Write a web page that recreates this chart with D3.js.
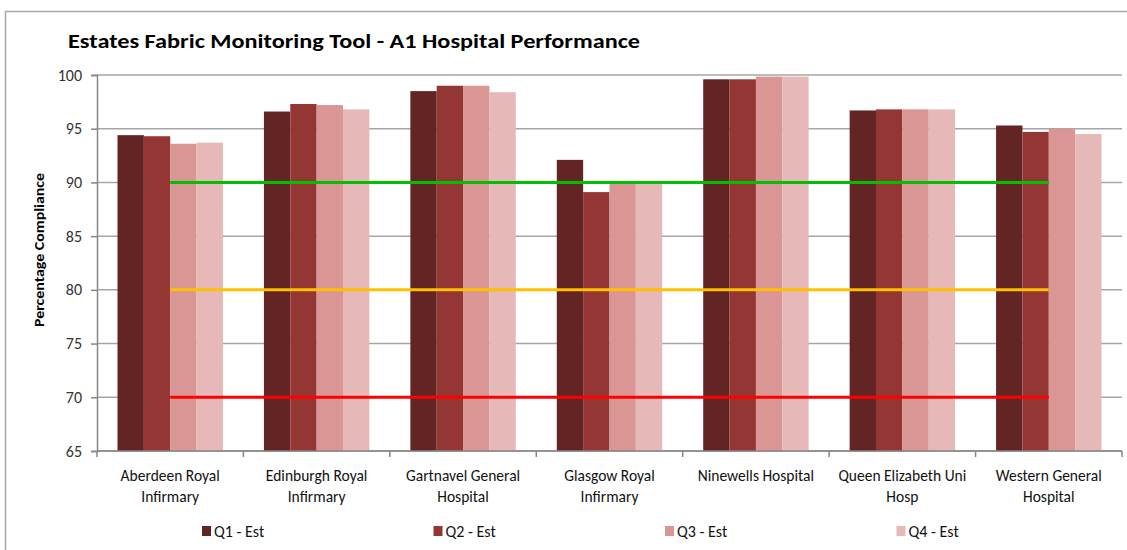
<!DOCTYPE html>
<html>
<head>
<meta charset="utf-8">
<script src="https://cdn.jsdelivr.net/npm/d3@7"></script>
<style>
  body { margin: 0; background: #fff; }
  text { font-family: Carlito, Calibri, Lato, sans-serif; }
</style>
</head>
<body>
<script>
var w = 1127,
    h = 550;

// hospitals, split into the two label lines
var hospitals = [
  ["Aberdeen Royal", "Infirmary"],
  ["Edinburgh Royal", "Infirmary"],
  ["Gartnavel General", "Hospital"],
  ["Glasgow Royal", "Infirmary"],
  ["Ninewells Hospital"],
  ["Queen Elizabeth Uni", "Hosp"],
  ["Western General", "Hospital"]
];

var q1 = [94.4, 96.6, 98.5, 92.1, 99.6, 96.7, 95.3];
var q2 = [94.3, 97.3, 99.0, 89.1, 99.6, 96.8, 94.7];
var q3 = [93.6, 97.2, 99.0, 89.9, 99.85, 96.8, 95.0];
var q4 = [93.7, 96.8, 98.4, 89.9, 99.85, 96.8, 94.5];

var seriesNames = ["Q1 - Est", "Q2 - Est", "Q3 - Est", "Q4 - Est"];
var seriesColors = ["#632523", "#943634", "#d99694", "#e6b9b8"];

var yTicks = [65, 70, 75, 80, 85, 90, 95, 100];

// target lines
var targets = [90, 80, 70];
var targetColors = ["#00c000", "#ffc000", "#ff0000"];

var series = [q1, q2, q3, q4];

var plotLeft = 97, plotRight = 1122, plotTop = 75, plotBottom = 451;

var x0 = d3.scaleBand()
          .domain(d3.range(hospitals.length))
          .range([plotLeft, plotRight])
          .paddingInner(0.28)
          .paddingOuter(0.14);

var x1 = d3.scaleBand()
          .domain(d3.range(series.length))
          .range([0, x0.bandwidth()]);

var y = d3.scaleLinear()
          .domain([65, 100])
          .range([plotBottom, plotTop]);

var svg = d3.select("body").append("svg")
          .attr("width", w)
          .attr("height", h);

// chart frame
svg.append("path")
  .attr("d", "M5.5," + (h + 2) + "V11.5H" + (w + 2))
  .attr("fill", "none")
  .attr("stroke", "#a6a6a6")
  .attr("stroke-width", 1.5);

svg.append("text")
  .text("Estates Fabric Monitoring Tool - A1 Hospital Performance")
  .attr("x", 68)
  .attr("y", 48)
  .attr("font-size", 21)
  .attr("font-weight", "bold")
  .attr("fill", "#000")
  .attr("textLength", 572)
  .attr("lengthAdjust", "spacingAndGlyphs");

// gridlines
svg.append("g")
  .selectAll("line")
  .data(yTicks)
  .enter()
  .append("line")
  .attr("x1", plotLeft)
  .attr("x2", plotRight)
  .attr("y1", function(d) { return y(d); })
  .attr("y2", function(d) { return y(d); })
  .attr("stroke", "#a6a6a6")
  .attr("stroke-width", 1.5);

// y axis
var yAxis = svg.append("g")
  .attr("transform", "translate(" + plotLeft + ",0)")
  .call(d3.axisLeft(y).tickValues(yTicks).tickSize(6).tickPadding(9));

yAxis.select(".domain").attr("stroke", "#868686").attr("stroke-width", 1.5);
yAxis.selectAll(".tick line").attr("stroke", "#868686").attr("stroke-width", 1.5);
yAxis.selectAll(".tick text")
  .attr("font-size", 16)
  .attr("fill", "#333")
  .style("font-family", "Carlito, Calibri, Lato, sans-serif");

svg.append("text")
  .text("Percentage Compliance")
  .attr("transform", "translate(44,250) rotate(-90)")
  .attr("text-anchor", "middle")
  .attr("font-size", 14)
  .attr("font-weight", "bold")
  .attr("fill", "#000")
  .attr("textLength", 154)
  .attr("lengthAdjust", "spacingAndGlyphs");

// bars
var groups = svg.append("g")
  .selectAll("g")
  .data(hospitals)
  .enter()
  .append("g")
  .attr("transform", function(d, i) { return "translate(" + x0(i) + ",0)"; });

groups.selectAll("rect")
  .data(function(d, i) { return series.map(function(s, j) { return {s: j, v: s[i]}; }); })
  .enter()
  .append("rect")
  .attr("x", function(d) { return x1(d.s); })
  .attr("width", x1.bandwidth())
  .attr("y", function(d) { return y(d.v); })
  .attr("height", function(d) { return plotBottom - y(d.v); })
  .attr("fill", function(d) { return seriesColors[d.s]; });

// target lines, from first to last category centre
var firstX = x0(0) + x0.bandwidth() / 2,
    lastX = x0(hospitals.length - 1) + x0.bandwidth() / 2;

svg.append("g")
  .selectAll("line")
  .data(targets)
  .enter()
  .append("line")
  .attr("x1", firstX)
  .attr("x2", lastX)
  .attr("y1", function(d) { return y(d); })
  .attr("y2", function(d) { return y(d); })
  .attr("stroke", function(d, i) { return targetColors[i]; })
  .attr("stroke-width", 3);

// x axis
svg.append("line")
  .attr("x1", plotLeft)
  .attr("x2", plotRight)
  .attr("y1", plotBottom)
  .attr("y2", plotBottom)
  .attr("stroke", "#868686")
  .attr("stroke-width", 1.5);

var step = x0.step();
svg.append("g")
  .selectAll("line")
  .data(d3.range(hospitals.length + 1))
  .enter()
  .append("line")
  .attr("x1", function(d) { return plotLeft + d * step; })
  .attr("x2", function(d) { return plotLeft + d * step; })
  .attr("y1", plotBottom)
  .attr("y2", plotBottom + 6)
  .attr("stroke", "#868686")
  .attr("stroke-width", 1.5);

var labels = svg.append("g")
  .selectAll("text")
  .data(hospitals)
  .enter()
  .append("text")
  .attr("text-anchor", "middle")
  .attr("font-size", 15.5)
  .attr("fill", "#111");

labels.selectAll("tspan")
  .data(function(d, i) { return d.map(function(t) { return {t: t, i: i}; }); })
  .enter()
  .append("tspan")
  .attr("x", function(d) { return x0(d.i) + x0.bandwidth() / 2; })
  .attr("y", function(d, k) { return 481 + k * 21; })
  .text(function(d) { return d.t; });

// legend
var legend = svg.append("g")
  .selectAll("g")
  .data(seriesNames)
  .enter()
  .append("g")
  .attr("transform", function(d, i) { return "translate(" + (202 + i * 231.5) + ",531)"; });

legend.append("rect")
  .attr("x", 0)
  .attr("y", -5)
  .attr("width", 9)
  .attr("height", 10)
  .attr("fill", function(d, i) { return seriesColors[i]; });

legend.append("text")
  .text(function(d) { return d; })
  .attr("x", 12)
  .attr("y", 5.5)
  .attr("font-size", 16)
  .attr("fill", "#111");
</script>
</body>
</html>
